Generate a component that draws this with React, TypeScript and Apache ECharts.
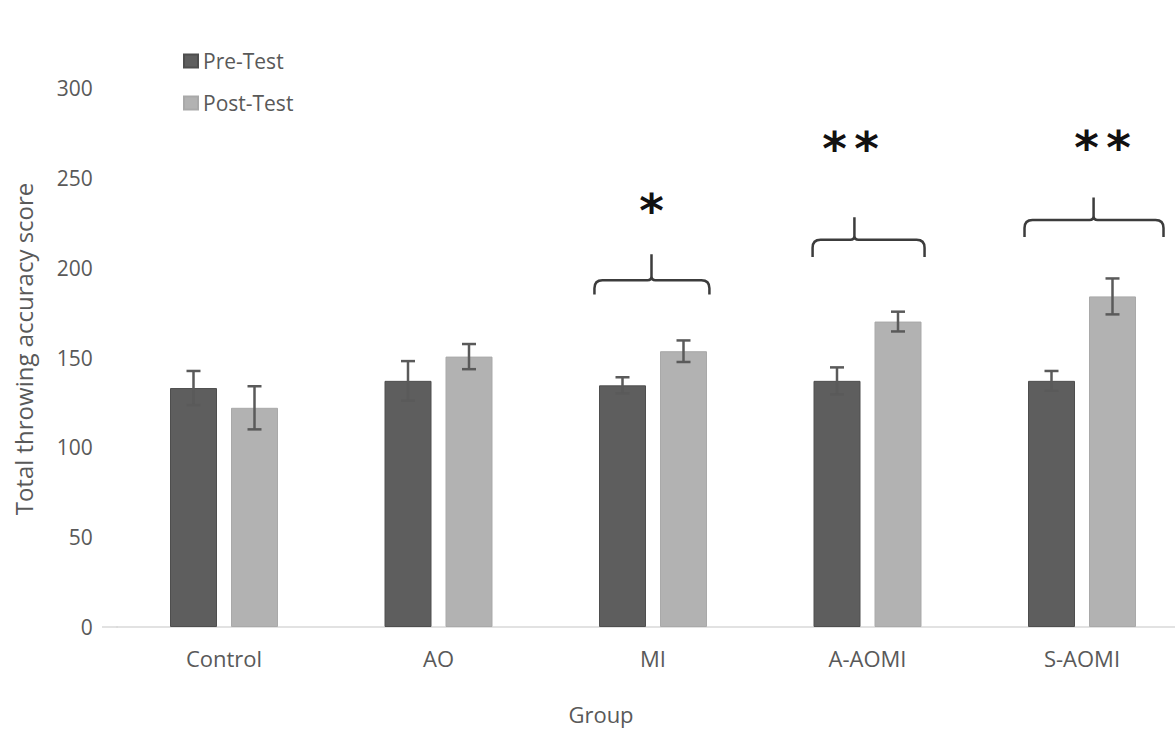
import React, { useEffect, useRef } from "react";
import * as echarts from "echarts";

const categories = ["Control", "AO", "MI", "A-AOMI", "S-AOMI"];
const preTest = [133, 137, 134.5, 137, 137];
const preErr = [9.5, 11, 4.5, 7.5, 5.5];
const postTest = [122, 150.5, 153.5, 170, 184];
const postErr = [12, 7, 6, 5.5, 10];
const yTicks = { min: 0, max: 300, interval: 50 };

// significance annotations
const sigCats = [2, 3, 4];
const sigLabels = ["*", "**", "**"];
const sigLabelValue = [235.4, 269.4, 270.5];
const braceLineValue = [193, 215.5, 226.5];
const braceTipValue = [207.5, 228, 239];
const braceEndValue = [185, 206, 217];

// geometry (fractions of a category band)
const braceLeft = [-0.273, -0.256, -0.268];
const braceRight = [0.263, 0.266, 0.38];
const braceTip = [-0.007, -0.061, 0.054];
const sigLabelShift = [-0.007, -0.079, 0.096];

const BAR_W = 47;
const BAR_GAP = 14;
const OFFSET = (BAR_W + BAR_GAP) / 2;
const PRE_COLOR = "#5e5e5e";
const POST_COLOR = "#b2b2b2";
const TEXT_COLOR = "#595959";
const FONT = "'Open Sans', sans-serif";

function errorSeries(values: number[], errors: number[], sign: number) {
  return {
    type: "custom",
    silent: true,
    z: 10,
    clip: false,
    data: values.map((v, i) => [i, v, errors[i]]),
    encode: { x: 0, y: 1 },
    renderItem: (_params: any, api: any) => {
      const i = api.value(0);
      const v = api.value(1);
      const e = api.value(2);
      const top = api.coord([i, v + e]);
      const bot = api.coord([i, v - e]);
      const x = top[0] + sign * OFFSET;
      const cap = 7;
      const style = { stroke: "#5a5a5a", lineWidth: 2.5 };
      return {
        type: "group",
        children: [
          { type: "line", shape: { x1: x, y1: top[1], x2: x, y2: bot[1] }, style },
          { type: "line", shape: { x1: x - cap, y1: top[1], x2: x + cap, y2: top[1] }, style },
          { type: "line", shape: { x1: x - cap, y1: bot[1], x2: x + cap, y2: bot[1] }, style },
        ],
      };
    },
  };
}

export default function App() {
  const ref = useRef<HTMLDivElement>(null);

  useEffect(() => {
    document.body.style.margin = "0";
    if (!ref.current) return;
    const chart = echarts.init(ref.current, undefined, { renderer: "svg" });

    const braceData = sigCats.map((c, k) => [
      c,
      braceLineValue[k],
      braceTipValue[k],
      braceEndValue[k],
      sigLabelValue[k],
      k,
    ]);

    const option: any = {
      animation: false,
      backgroundColor: "#ffffff",
      grid: {
        left: 116.75,
        top: 88,
        bottom: 107,
        width: 1072.5,
        outerBoundsMode: "none",
        containLabel: false,
      },
      legend: {
        data: ["Pre-Test", "Post-Test"],
        orient: "vertical",
        left: 183,
        top: 50,
        padding: 0,
        itemWidth: 14,
        itemHeight: 13,
        itemGap: 20,
        icon: "rect",
        selectedMode: false,
        textStyle: { color: TEXT_COLOR, fontSize: 21, fontFamily: FONT, lineHeight: 22 },
      },
      xAxis: {
        type: "category",
        data: categories,
        boundaryGap: true,
        axisLine: { show: true, lineStyle: { color: "#d9d9d9", width: 1.5 } },
        axisTick: { show: false },
        axisLabel: { color: TEXT_COLOR, fontSize: 22, fontFamily: FONT, margin: 20 },
        splitLine: { show: false },
      },
      yAxis: {
        type: "value",
        min: yTicks.min,
        max: yTicks.max,
        interval: yTicks.interval,
        axisLine: { show: false },
        axisTick: { show: false },
        splitLine: { show: false },
        axisLabel: { color: TEXT_COLOR, fontSize: 21, fontFamily: FONT, margin: 24 },
      },
      series: [
        {
          name: "Pre-Test",
          type: "bar",
          data: preTest,
          barWidth: BAR_W,
          barGap: (BAR_GAP / BAR_W) * 100 + "%",
          itemStyle: { color: PRE_COLOR, borderColor: "#4e4e4e", borderWidth: 1 },
        },
        {
          name: "Post-Test",
          type: "bar",
          data: postTest,
          barWidth: BAR_W,
          itemStyle: { color: POST_COLOR, borderColor: "#a9a9a9", borderWidth: 1 },
        },
        errorSeries(preTest, preErr, -1),
        errorSeries(postTest, postErr, 1),
        {
          type: "custom",
          silent: true,
          clip: false,
          z: 12,
          data: braceData,
          encode: { x: 0, y: 1 },
          renderItem: (_params: any, api: any) => {
            const c = api.value(0);
            const k = api.value(5);
            const band = api.size([1, 0])[0];
            const center = api.coord([c, 0])[0];
            const yLine = api.coord([c, api.value(1)])[1];
            const yTip = api.coord([c, api.value(2)])[1];
            const yEnd = api.coord([c, api.value(3)])[1];
            const yLab = api.coord([c, api.value(4)])[1];
            const L = center + braceLeft[k] * band;
            const R = center + braceRight[k] * band;
            const T = center + braceTip[k] * band;
            const r = 8;
            const r2 = 4;
            const d =
              `M ${L} ${yEnd} L ${L} ${yLine + r} Q ${L} ${yLine} ${L + r} ${yLine} ` +
              `L ${T - r2} ${yLine} Q ${T} ${yLine} ${T} ${yLine - r2} L ${T} ${yTip} ` +
              `M ${T} ${yLine - r2} Q ${T} ${yLine} ${T + r2} ${yLine} ` +
              `L ${R - r} ${yLine} Q ${R} ${yLine} ${R} ${yLine + r} L ${R} ${yEnd}`;
            const label = sigLabels[k];
            const n = label.length;
            const lx = center + sigLabelShift[k] * band;
            const stars: any[] = [];
            for (let j = 0; j < n; j++) {
              stars.push({
                type: "text",
                style: {
                  text: "*",
                  x: lx + (j - (n - 1) / 2) * 32,
                  y: yLab + 6,
                  textAlign: "center",
                  textVerticalAlign: "middle",
                  fontSize: 47,
                  fontWeight: "bold",
                  fontFamily: "'DejaVu Sans', sans-serif",
                  fill: "#111111",
                },
              });
            }
            return {
              type: "group",
              children: [
                {
                  type: "path",
                  shape: { pathData: d },
                  style: { stroke: "#3c3c3c", lineWidth: 2.5, fill: "none" },
                },
                ...stars,
              ],
            };
          },
        },
      ],
      graphic: [
        {
          type: "line",
          shape: { x1: 102, y1: 627, x2: 118, y2: 627 },
          style: { stroke: "#d9d9d9", lineWidth: 1.5 },
          silent: true,
        },
        {
          type: "text",
          x: 23,
          y: 349,
          rotation: Math.PI / 2,
          style: {
            text: "Total throwing accuracy score",
            fill: TEXT_COLOR,
            fontSize: 24,
            fontFamily: FONT,
            textAlign: "center",
            textVerticalAlign: "middle",
          },
        },
        {
          type: "text",
          x: 601,
          y: 714,
          style: {
            text: "Group",
            fill: TEXT_COLOR,
            fontSize: 22,
            fontFamily: FONT,
            textAlign: "center",
            textVerticalAlign: "middle",
          },
        },
      ],
    };

    chart.setOption(option);
    return () => chart.dispose();
  }, []);

  return <div ref={ref} style={{ width: 1175, height: 734 }} />;
}
